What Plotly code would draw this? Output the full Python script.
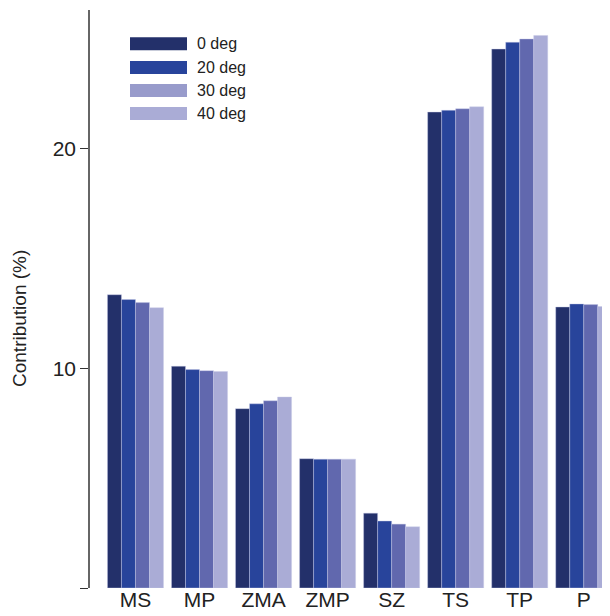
import plotly.graph_objects as go

categories = ["MS", "MP", "ZMA", "ZMP", "SZ", "TS", "TP", "P"]
series_names = ["0 deg", "20 deg", "30 deg", "40 deg"]
deg0 = [13.36, 10.10, 8.17, 5.89, 3.41, 21.68, 24.55, 12.80]
deg20 = [13.14, 9.95, 8.39, 5.87, 3.05, 21.76, 24.86, 12.94]
deg30 = [13.00, 9.90, 8.53, 5.87, 2.91, 21.83, 25.01, 12.91]
deg40 = [12.77, 9.86, 8.70, 5.87, 2.79, 21.92, 25.17, 12.82]
series_values = [deg0, deg20, deg30, deg40]
y_tickvals = [0, 10, 20]
y_ticktext = ["", "10", "20"]

bar_colors = ["#23306a", "#28449b", "#6168ae", "#aaacd6"]
legend_colors = ["#23306a", "#28449b", "#989bcb", "#aaacd6"]

# page has an 8px body margin; size the figure to fit the window exactly
OFF = 8
W, H = 610 - OFF, 616 - OFF
L, R, T, B = 90 - OFF, 0, 10 - OFF, 28
FONT = "Liberation Sans, Arial, sans-serif"

fig = go.Figure()
for name, vals, col in zip(series_names, series_values, bar_colors):
    fig.add_trace(go.Bar(
        x=categories, y=vals, name=name,
        marker=dict(color=col, line=dict(width=0.6, color="rgba(200,202,230,0.7)")),
        showlegend=False,
    ))

# custom legend (long swatches); positions given in page pixels
pw, ph = W - L - R, H - T - B
def px2x(px):
    return (px - OFF - L) / pw
def px2y(py):
    return (H - B - (py - OFF)) / ph

legend_y = [43.7, 67.5, 90.5, 113.5]
for name, col, cy in zip(series_names, legend_colors, legend_y):
    fig.add_shape(type="rect", xref="paper", yref="paper",
                  x0=px2x(130), x1=px2x(187), y0=px2y(cy + 6.5), y1=px2y(cy - 6.5),
                  fillcolor=col, line=dict(width=0))
    fig.add_annotation(xref="paper", yref="paper", x=px2x(195), y=px2y(cy),
                       text=name, showarrow=False, xanchor="left", yanchor="middle",
                       font=dict(size=16, color="#222222", family=FONT))

# y-axis title (placed slightly below axis centre as in the reference)
fig.add_annotation(xref="paper", yref="paper", x=px2x(19), y=px2y(319),
                   text="Contribution (%)", showarrow=False, textangle=-90,
                   xanchor="center", yanchor="middle",
                   font=dict(size=19, color="#222222", family=FONT))

fig.update_layout(
    width=W, height=H,
    margin=dict(l=L, r=R, t=T, b=B, autoexpand=False),
    barmode="group", bargap=0.125, bargroupgap=0,
    plot_bgcolor="white", paper_bgcolor="white",
    font=dict(family=FONT, color="#222222"),
    xaxis=dict(range=[-0.71, 7.41], showline=False, showgrid=False, zeroline=False,
               ticks="", ticklabelstandoff=-3,
               tickfont=dict(size=21), automargin=False),
    yaxis=dict(range=[0, 26.33], showline=True, linecolor="#666666", linewidth=1.5,
               showgrid=False, zeroline=False, ticks="outside", ticklen=8,
               tickcolor="#333333", tickwidth=1.2,
               tickvals=y_tickvals, ticktext=y_ticktext, tickfont=dict(size=21),
               automargin=False),
)

fig.write_html("out.html")
